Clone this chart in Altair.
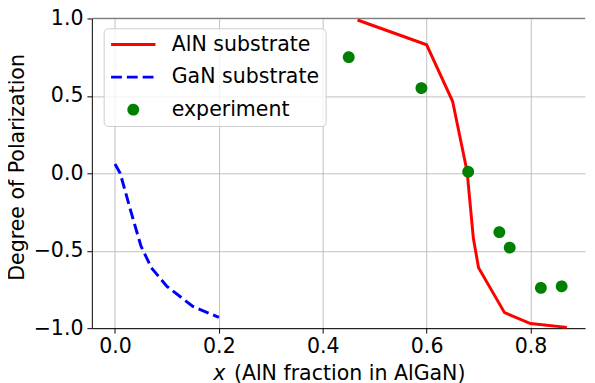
import altair as alt
import pandas as pd

# ---- data ----
aln_x = [0.467, 0.60, 0.65, 0.678, 0.69, 0.70, 0.75, 0.80, 0.87]
aln_y = [0.99, 0.83, 0.465, 0.01, -0.42, -0.61, -0.90, -0.97, -0.995]

gan_x = [0.0, 0.01, 0.03, 0.05, 0.07, 0.10, 0.15, 0.20]
gan_y = [0.06, 0.0, -0.24, -0.47, -0.61, -0.73, -0.86, -0.93]

exp_x = [0.45, 0.59, 0.68, 0.74, 0.76, 0.82, 0.86]
exp_y = [0.75, 0.55, 0.01, -0.38, -0.48, -0.74, -0.73]

series_names = ["AlN substrate", "GaN substrate", "experiment"]
series_colors = ["#ff0000", "#0000ff", "#008000"]

x_ticks = [0.0, 0.2, 0.4, 0.6, 0.8]
y_ticks = [-1.0, -0.5, 0.0, 0.5, 1.0]

y_title = "Degree of Polarization"
x_title_var = "x"
x_title_rest = "(AlN fraction in AlGaN)"

FONT = "DejaVu Sans"
FS = 20.8
DASH = [11, 5]
CIRCLE = "M-0.2,0A0.2,0.2 0 1,0 0.2,0A0.2,0.2 0 1,0 -0.2,0Z"

aln_df = pd.DataFrame({"x": aln_x, "y": aln_y, "i": range(len(aln_x))})
gan_df = pd.DataFrame({"x": gan_x, "y": gan_y, "i": range(len(gan_x))})
exp_df = pd.DataFrame({"x": exp_x, "y": exp_y, "series": series_names[2]})

xscale = alt.Scale(domain=[-0.0446, 0.905], nice=False, zero=False)
yscale = alt.Scale(domain=[-1.0, 1.0], nice=False, zero=False)

legend = alt.Legend(
    title=None,
    orient="none",
    legendX=12,
    legendY=10,
    fillColor="rgba(255,255,255,0.8)",
    strokeColor="#cccccc",
    cornerRadius=4,
    padding=6,
    symbolSize=2025,
    symbolStrokeWidth=3,
    symbolOpacity=1,
    clipHeight=21,
    rowPadding=11,
    labelOffset=15,
    labelFont=FONT,
    labelFontSize=FS,
    labelColor="black",
    labelLimit=400,
)

x_axis = alt.Axis(values=x_ticks, format=".1f", title=None, labelPadding=4,
                  labelFontSize=FS, labelFont=FONT)
y_axis = alt.Axis(values=y_ticks, format=".1f", title=y_title,
                  titleX=-69.5, titleY=150.5, titleAngle=270, titleAlign="center",
                  titleBaseline="alphabetic", titleFontWeight="normal",
                  titleFontSize=FS, titleFont=FONT,
                  labelPadding=4, labelFontSize=FS, labelFont=FONT)

aln_line = (
    alt.Chart(aln_df)
    .mark_line(strokeWidth=3, color=series_colors[0])
    .encode(
        x=alt.X("x:Q", scale=xscale, axis=x_axis),
        y=alt.Y("y:Q", scale=yscale, axis=y_axis),
        order="i:Q",
    )
)
gan_line = (
    alt.Chart(gan_df)
    .mark_line(strokeWidth=3, color=series_colors[1], strokeDash=DASH)
    .encode(
        x=alt.X("x:Q", scale=xscale),
        y=alt.Y("y:Q", scale=yscale),
        order="i:Q",
    )
)

points = (
    alt.Chart(exp_df)
    .mark_point(filled=True, size=2025, opacity=1, strokeWidth=3)
    .encode(
        x=alt.X("x:Q", scale=xscale),
        y=alt.Y("y:Q", scale=yscale),
        fill=alt.Fill("series:N", scale=alt.Scale(domain=series_names, range=series_colors), legend=legend),
        stroke=alt.Stroke("series:N", scale=alt.Scale(domain=series_names, range=series_colors), legend=legend),
        shape=alt.Shape("series:N", scale=alt.Scale(domain=series_names, range=["stroke", "stroke", CIRCLE]), legend=legend),
        strokeDash=alt.StrokeDash("series:N", scale=alt.Scale(domain=series_names, range=[[1, 0], DASH, [1, 0]]), legend=legend),
    )
)

top_spine = (
    alt.Chart(pd.DataFrame({"y": [1.0]}))
    .mark_rule(color="#808080", strokeWidth=1.2)
    .encode(y=alt.Y("y:Q", scale=yscale))
)

title_x = (
    alt.Chart(pd.DataFrame({"t": [x_title_var]}))
    .mark_text(font=FONT, fontSize=FS, fontStyle="italic", align="left",
               baseline="alphabetic", color="black")
    .encode(text="t:N", x=alt.value(123), y=alt.value(367))
)
title_rest = (
    alt.Chart(pd.DataFrame({"t": [x_title_rest]}))
    .mark_text(font=FONT, fontSize=FS, align="left", baseline="alphabetic", color="black")
    .encode(text="t:N", x=alt.value(144), y=alt.value(367))
)

chart = (
    alt.layer(top_spine, aln_line, gan_line, points, title_x, title_rest)
    .properties(
        width=500,
        height=314,
        autosize=alt.AutoSizeParams(type="none"),
        padding={"left": 85, "top": 8, "right": 2, "bottom": 53},
    )
    .configure_view(stroke=None)
    .configure_axis(
        domainColor="black",
        domainWidth=1,
        tickColor="black",
        tickSize=5,
        tickWidth=1,
        gridColor="#b0b0b0",
        gridWidth=0.8,
        labelFont=FONT,
        labelFontSize=FS,
        labelColor="black",
        titleFont=FONT,
        titleFontSize=FS,
        titleColor="black",
    )
)

chart.save("out.html", embed_options={"renderer": "svg", "actions": False})
